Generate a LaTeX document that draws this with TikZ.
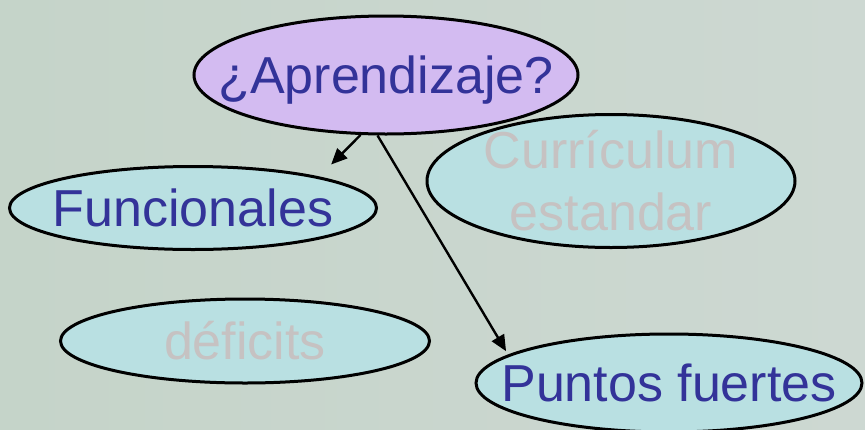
\documentclass[tikz,border=0pt]{standalone}
\usepackage{fontspec}
\setmainfont{Liberation Sans}
\usetikzlibrary{arrows.meta}
\usetikzlibrary{shapes.geometric}
\definecolor{bgleft}{RGB}{197,212,201}
\definecolor{bgright}{RGB}{205,216,210}
\definecolor{lilac}{RGB}{211,187,241}
\definecolor{aqua}{RGB}{185,224,226}
\definecolor{ink}{RGB}{51,51,153}
\definecolor{faded}{RGB}{198,194,194}

\begin{document}
\begin{tikzpicture}[x=1pt,y=-1pt,>={Triangle[length=16pt,width=14pt]},
  bubble/.style={ellipse,draw=black,line width=3pt,fill=aqua,inner xsep=-40pt,inner ysep=-20pt,text=ink,font=\fontsize{52}{62}\selectfont},
  oneline/.style={bubble,text height=37pt,text depth=0pt},
  link/.style={->,line width=2.4pt}]
\shade[left color=bgleft,right color=bgright] (0,0) rectangle (865,429);
\useasboundingbox (0,0) rectangle (865,429);
\node at (386,  75) (Apr) [oneline,fill=lilac,minimum width=384pt,minimum height=118pt] {¿Aprendizaje?};
\node at (193, 208) (Fun) [oneline,minimum width=367pt,minimum height=83pt] {Funcionales};
\node at (611, 181) (Cur) [bubble,text=faded,align=center,minimum width=368pt,minimum height=133pt] {Currículum\\estandar};
\node at (245, 341) (Def) [oneline,text=faded,minimum width=369pt,minimum height=84pt] {déficits};
\node at (669, 383) (Pun) [oneline,minimum width=386pt,minimum height=98pt] {Puntos fuertes};
\draw [link,shorten >=17pt] (Apr.247) -- (Fun.14);
\draw [link,shorten >=4pt] (Apr.262) -- (Pun.170);
\end{tikzpicture}
\end{document}
